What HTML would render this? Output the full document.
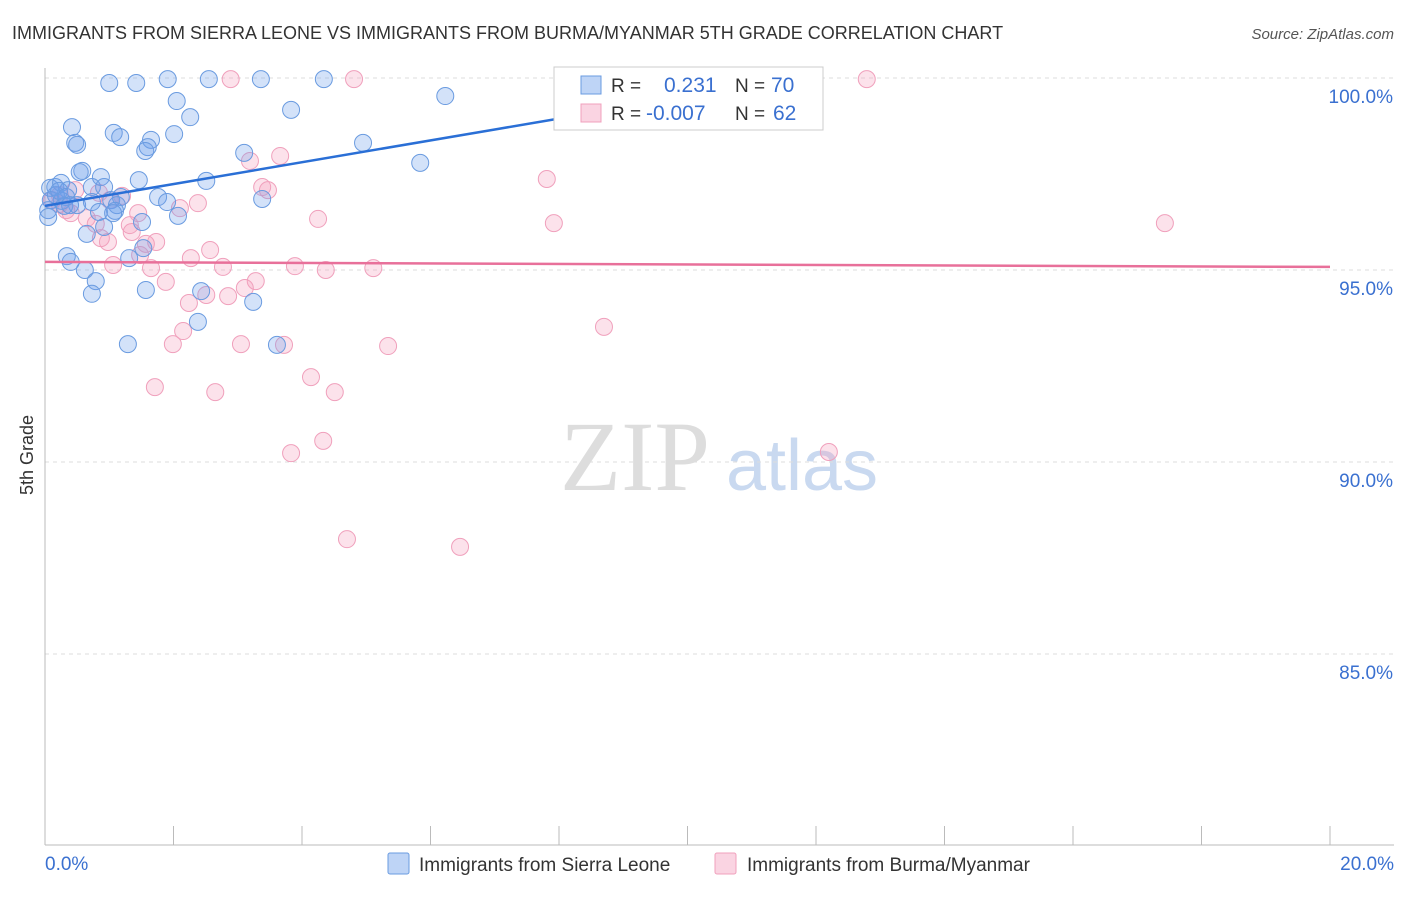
<!DOCTYPE html>
<html><head><meta charset="utf-8"><style>
body{margin:0;background:#fff;width:1406px;height:892px;overflow:hidden;font-family:"Liberation Sans",sans-serif}
</style></head><body>
<svg id="c" width="1406" height="892" xmlns="http://www.w3.org/2000/svg">
<text x="12" y="39" font-size="18" fill="#333">IMMIGRANTS FROM SIERRA LEONE VS IMMIGRANTS FROM BURMA/MYANMAR 5TH GRADE CORRELATION CHART</text>
<text x="1394" y="39" font-size="15" fill="#555" font-style="italic" text-anchor="end">Source: ZipAtlas.com</text>
<text x="33" y="455" font-size="18" fill="#333" transform="rotate(-90 33 455)" text-anchor="middle">5th Grade</text>
<g>
<text x="635" y="490" font-size="100" font-family="Liberation Serif,serif" fill="#ddd" text-anchor="middle">ZIP</text>
<text x="802" y="490" font-size="72" fill="#c9d9f0" text-anchor="middle">atlas</text>
</g>
<g id="grid"></g><g id="pts"></g><g id="trend"></g>
<g>
<rect x="554" y="67" width="269" height="63" fill="#fff" stroke="#ccc"/>
<rect x="581" y="76" width="20" height="18" fill="rgba(110,160,235,0.45)" stroke="#6a9be0"/>
<rect x="581" y="104" width="20" height="18" fill="rgba(245,160,190,0.45)" stroke="#f0a0bc"/>
<text x="611" y="92" font-size="19" fill="#333">R = </text><text x="664" y="92" font-size="21" fill="#3a70d0">0.231</text>
<text x="735" y="92" font-size="19" fill="#333">N = </text><text x="771" y="92" font-size="21" fill="#3a70d0">70</text>
<text x="611" y="120" font-size="19" fill="#333">R = </text><text x="646" y="120" font-size="21" fill="#3a70d0">-0.007</text>
<text x="735" y="120" font-size="19" fill="#333">N = </text><text x="773" y="120" font-size="21" fill="#3a70d0">62</text>
</g>
<g>
<rect x="388" y="853" width="21" height="21" fill="rgba(110,160,235,0.45)" stroke="#6a9be0" rx="2"/>
<text x="419" y="871" font-size="19" fill="#333">Immigrants from Sierra Leone</text>
<rect x="715" y="853" width="21" height="21" fill="rgba(245,160,190,0.45)" stroke="#f0a0bc" rx="2"/>
<text x="747" y="871" font-size="19" fill="#333">Immigrants from Burma/Myanmar</text>
</g>
</svg>
<script>
const yTicks=[100,95,90,85];
const xTickLabels=["0.0%","20.0%"];
const blueX=[1.00,1.42,1.91,2.55,3.36,4.34,2.05,2.26,3.83,6.23,0.42,0.47,0.50,1.07,1.17,1.65,1.60,1.56,2.01,3.10,4.95,5.84,0.58,0.54,0.87,1.46,2.51,0.08,0.16,0.25,0.36,0.73,0.92,1.18,1.76,3.38,0.09,0.26,0.50,0.73,1.03,1.12,1.90,0.05,0.05,1.09,1.51,2.07,0.65,0.92,1.53,1.31,0.34,0.40,0.62,0.79,0.73,1.57,2.43,3.24,2.38,1.29,3.61,0.17,0.30,0.84,1.06,0.22,0.33,0.39];
const blueY=[99.87,99.87,99.97,99.97,99.97,99.97,99.40,98.98,99.17,99.53,98.72,98.31,98.26,98.57,98.46,98.39,98.20,98.10,98.54,98.05,98.31,97.79,97.58,97.55,97.42,97.34,97.32,97.14,97.16,97.27,97.08,97.16,97.16,96.90,96.90,96.85,96.82,96.80,96.69,96.77,96.82,96.69,96.77,96.56,96.38,96.54,96.25,96.41,95.94,96.12,95.57,95.31,95.36,95.21,95.00,94.71,94.38,94.48,94.45,94.17,93.65,93.07,93.05,96.95,96.67,96.51,96.48,97.06,96.90,96.69];
const pinkX=[2.89,4.81,12.79,11.18,3.19,3.66,7.81,3.38,3.47,1.20,0.11,0.23,0.33,0.40,0.84,0.65,0.79,0.87,0.98,2.38,2.10,1.45,4.25,7.92,17.43,1.35,1.73,1.57,2.57,2.27,1.06,1.65,2.77,3.89,4.37,5.11,1.88,3.28,3.11,2.24,2.51,2.85,8.70,2.15,1.99,3.05,3.72,5.34,1.71,2.65,4.14,4.51,12.20,4.33,3.83,4.70,6.46,1.01,0.47,1.48,1.32,0.23];
const pinkY=[99.97,99.97,99.97,98.91,97.84,97.97,97.37,97.16,97.08,96.93,96.82,96.72,96.56,96.48,97.01,96.35,96.20,95.83,95.73,96.74,96.61,96.48,96.33,96.22,96.22,95.99,95.73,95.68,95.52,95.31,95.13,95.05,95.08,95.10,95.00,95.05,94.69,94.71,94.53,94.14,94.35,94.32,93.52,93.41,93.07,93.07,93.05,93.02,91.95,91.82,92.21,91.82,90.26,90.55,90.23,87.99,87.79,96.82,97.08,95.39,96.17,96.95];
const blueTrend=[[0,96.67],[8.2,99.0]];
const pinkTrend=[[0,95.21],[20,95.08]];
const NS="http://www.w3.org/2000/svg";
const X=v=>45+v*64.25, Y=v=>78+(100-v)*38.4;
function mk(t,a,p){const e=document.createElementNS(NS,t);for(const k in a)e.setAttribute(k,a[k]);p.appendChild(e);return e;}
const g=document.getElementById('grid');
yTicks.forEach(t=>{
 const l=mk('line',{x1:45,x2:1394,y1:Y(t),y2:Y(t),stroke:'#ddd','stroke-dasharray':'4,4'},g);
 
 
 const tx=mk('text',{x:1393,y:Y(t)+25,'font-size':19,fill:'#3a70d0','text-anchor':'end'},g);
 tx.textContent=t.toFixed(1)+'%';
 
 
});
const ax=mk('line',{x1:45,x2:45,y1:68,y2:845,stroke:'#bbb'},g);


const bx=mk('line',{x1:45,x2:1394,y1:845,y2:845,stroke:'#bbb'},g);


for(let i=0;i<=10;i++){
 const t=mk('line',{x1:X(i*2),x2:X(i*2),y1:826,y2:845,stroke:'#bbb'},g);
 
 
}
[[0,'start',45],[20,'end',1394]].forEach((d,i)=>{
 const t=mk('text',{x:d[2],y:870,'font-size':19,fill:'#3a70d0','text-anchor':d[1]},g);
 t.textContent=xTickLabels[i];
 
 
});
const p=document.getElementById('pts');
pinkX.forEach((x,i)=>{
 const c=mk('circle',{cx:X(x),cy:Y(pinkY[i]),r:8.5,fill:'rgba(245,160,190,0.3)',stroke:'#f0a0bc','stroke-width':1},p);
 
 
});
blueX.forEach((x,i)=>{
 const c=mk('circle',{cx:X(x),cy:Y(blueY[i]),r:8.5,fill:'rgba(110,160,235,0.3)',stroke:'#6a9be0','stroke-width':1},p);
 
 
});
const tr=document.getElementById('trend');
const bl=mk('line',{x1:X(blueTrend[0][0]),y1:Y(blueTrend[0][1]),x2:X(blueTrend[1][0]),y2:Y(blueTrend[1][1]),stroke:'#2a6fd6','stroke-width':2.5},tr);


const pl=mk('line',{x1:X(pinkTrend[0][0]),y1:Y(pinkTrend[0][1]),x2:X(pinkTrend[1][0]),y2:Y(pinkTrend[1][1]),stroke:'#e8709a','stroke-width':2.5},tr);


</script>
</body></html>
